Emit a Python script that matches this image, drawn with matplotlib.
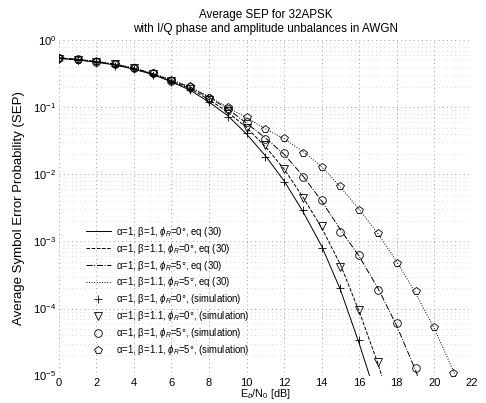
import numpy as np
import matplotlib
matplotlib.use('Agg')
import matplotlib.pyplot as plt

plt.rcParams['font.family'] = ['Liberation Sans', 'DejaVu Sans']
plt.rcParams['mathtext.fontset'] = 'custom'
plt.rcParams['mathtext.rm'] = 'Liberation Sans'
plt.rcParams['mathtext.it'] = 'Liberation Sans:italic'

# Eb/N0 en dB (pasos de 1 dB)
snr = np.arange(0, 23)

# curvas teoricas, eq (30)
teo_a1_b1_p0 = [0.54, 0.51, 0.47, 0.43, 0.37, 0.31, 0.24, 0.18, 0.12, 0.075, 0.04, 0.019,
                8e-3, 2.8e-3, 8.5e-4, 1.9e-4, 3e-5, 4e-6]
teo_a1_b11_p0 = [0.54, 0.51, 0.48, 0.43, 0.38, 0.31, 0.245, 0.19, 0.13, 0.085, 0.05, 0.026,
                 0.012, 4.6e-3, 1.6e-3, 4.5e-4, 9e-5, 1.5e-5, 1.8e-6]
teo_a1_b1_p5 = [0.55, 0.52, 0.48, 0.44, 0.38, 0.32, 0.25, 0.2, 0.14, 0.095, 0.058, 0.035,
                0.02, 9.5e-3, 4e-3, 1.5e-3, 6e-4, 2e-4, 5.5e-5, 1.2e-5, 2e-6]
teo_a1_b11_p5 = [0.55, 0.52, 0.49, 0.44, 0.39, 0.32, 0.26, 0.2, 0.145, 0.1, 0.07, 0.048,
                 0.034, 0.022, 0.013, 6.5e-3, 3e-3, 1.3e-3, 5e-4, 1.7e-4, 5e-5, 1.2e-5, 2.5e-6]

# simulaciones
sim_a1_b1_p0 = [0.55, 0.50, 0.47, 0.42, 0.37, 0.30, 0.24, 0.18, 0.12, 0.073, 0.041, 0.018,
                7.6e-3, 2.9e-3, 8e-4, 2e-4, 3.4e-5]
sim_a1_b11_p0 = [0.53, 0.51, 0.48, 0.44, 0.38, 0.31, 0.25, 0.19, 0.13, 0.087, 0.049, 0.027,
                 0.012, 4.4e-3, 1.7e-3, 4.2e-4, 9.5e-5, 1.6e-5]
sim_a1_b1_p5 = [0.55, 0.52, 0.47, 0.44, 0.38, 0.32, 0.25, 0.2, 0.14, 0.093, 0.06, 0.034,
                0.021, 9e-3, 4.2e-3, 1.4e-3, 6.3e-4, 1.9e-4, 6e-5, 1.3e-5]
sim_a1_b11_p5 = [0.55, 0.51, 0.49, 0.45, 0.39, 0.33, 0.26, 0.21, 0.14, 0.1, 0.072, 0.047,
                 0.035, 0.021, 0.013, 6.8e-3, 2.9e-3, 1.35e-3, 4.8e-4, 1.8e-4, 5.3e-5, 1.1e-5]

etiquetas = [
    'α=1, β=1, $\\phi_R$=0°, eq (30)',
    'α=1, β=1.1, $\\phi_R$=0°, eq (30)',
    'α=1, β=1, $\\phi_R$=5°, eq (30)',
    'α=1, β=1.1, $\\phi_R$=5°, eq (30)',
    'α=1, β=1, $\\phi_R$=0°, (simulation)',
    'α=1, β=1.1, $\\phi_R$=0°, (simulation)',
    'α=1, β=1, $\\phi_R$=5°, (simulation)',
    'α=1, β=1.1, $\\phi_R$=5°, (simulation)',
]

fig = plt.figure(figsize=(4.86, 4.03), dpi=100)
ax = fig.add_axes([0.121, 0.068, 0.850, 0.832])

teoricas = [teo_a1_b1_p0, teo_a1_b11_p0, teo_a1_b1_p5, teo_a1_b11_p5]
estilos = ['-', '--', '-.', ':']
for curva, ls, lab in zip(teoricas, estilos, etiquetas[:4]):
    ax.semilogy(snr[:len(curva)], curva, color='k', ls=ls, lw=0.7, label=lab)

simuladas = [sim_a1_b1_p0, sim_a1_b11_p0, sim_a1_b1_p5, sim_a1_b11_p5]
marcas = ['+', 'v', 'o', 'p']
for curva, mk, lab in zip(simuladas, marcas, etiquetas[4:]):
    ax.semilogy(snr[:len(curva)], curva, ls='none', marker=mk, ms=5.5, mfc='none',
                mec='k', mew=0.6, label=lab)

ax.set_xlim(0, 22)
ax.set_ylim(1e-5, 1)
ax.set_xticks(np.arange(0, 23, 2))
ax.grid(True, which='major', ls=(0, (1, 4)), color='0.5', lw=0.6)
ax.grid(True, which='minor', axis='y', ls=(0, (1, 5)), color='0.7', lw=0.5)
for s in ax.spines.values():
    s.set_visible(False)
ax.tick_params(which='both', length=0, labelsize=8, pad=2)

ax.set_title('Average SEP for 32APSK\nwith I/Q phase and amplitude unbalances in AWGN',
             fontsize=8.4, pad=6, linespacing=1.2)
ax.set_xlabel('E$_b$/N$_0$ [dB]', fontsize=7.8, labelpad=-1)
ax.set_ylabel('Average Symbol Error Probability (SEP)', fontsize=9.5, labelpad=6)

ax.legend(loc='lower left', bbox_to_anchor=(0.045, 0.03), frameon=False, fontsize=6.9,
          labelspacing=0.3, handlelength=2.6, handletextpad=0.5)

fig.savefig('out.png', dpi=100)
